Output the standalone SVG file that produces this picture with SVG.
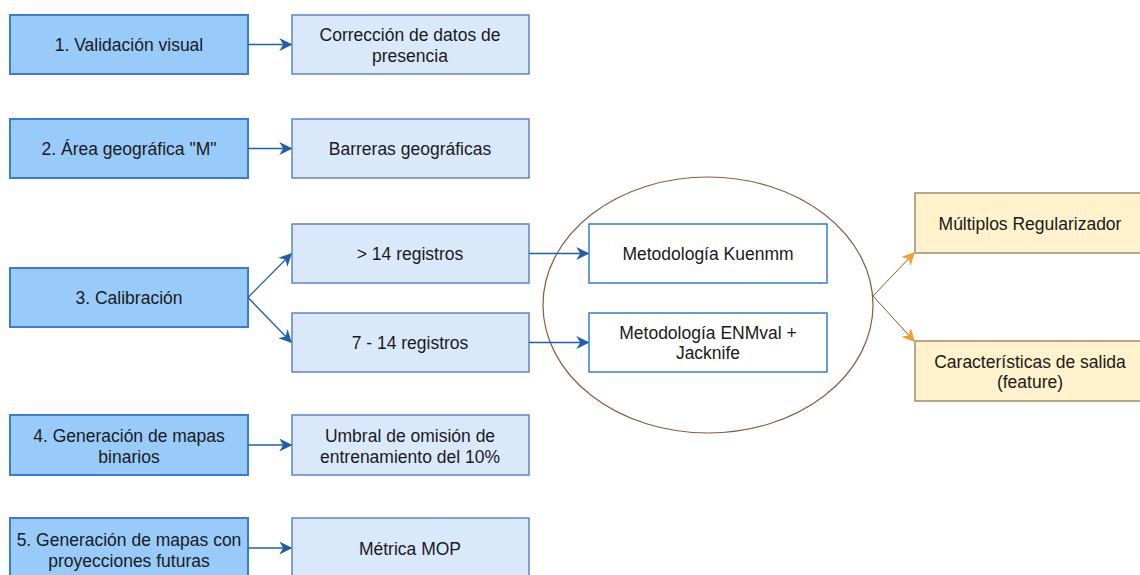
<svg xmlns="http://www.w3.org/2000/svg" width="1140" height="575" viewBox="0 0 1140 575">
<defs>
<style>
text{font-family:"Liberation Sans",Arial,sans-serif;font-size:17.5px;fill:#1a1a1a;text-anchor:middle;dominant-baseline:central}
.main{fill:#99cbfa;stroke:#3a7bd5;stroke-width:2}
.sub{fill:#dae8fc;stroke:#5f86c0;stroke-width:1.5}
.met{fill:#ffffff;stroke:#3a7bd5;stroke-width:1.5}
.out{fill:#fff2cc;stroke:#a08c6c;stroke-width:1.5}
.c{fill:none;stroke:#1f5fae;stroke-width:1.3}
.o{fill:none;stroke:#8b5a2b;stroke-width:1}
</style>
<marker id="ab" viewBox="0 0 10 10" refX="9" refY="5" markerWidth="13" markerHeight="13" markerUnits="userSpaceOnUse" orient="auto"><path d="M0,0 L10,5 L0,10 L3,5 Z" fill="#1f5fae"/></marker>
<marker id="ao" viewBox="0 0 10 10" refX="9" refY="5" markerWidth="13" markerHeight="13" markerUnits="userSpaceOnUse" orient="auto"><path d="M0,0 L10,5 L0,10 L3,5 Z" fill="#f0a030"/></marker>
</defs>
<rect width="1140" height="575" fill="#ffffff"/>
<ellipse id="group-ellipse" cx="708" cy="305" rx="165" ry="128" fill="none" stroke="#8b5e3c" stroke-width="1.2"/>
<g id="n1"><rect class="main" x="10" y="15" width="238" height="59"/><text x="129" y="45">1. Validación visual</text></g>
<g id="n1b"><rect class="sub" x="292" y="15" width="237" height="59"/><text x="410" y="35">Corrección de datos de</text><text x="410" y="56">presencia</text></g>
<g id="n2"><rect class="main" x="10" y="119" width="238" height="59"/><text x="129" y="149">2. Área geográfica "M"</text></g>
<g id="n2b"><rect class="sub" x="292" y="119" width="237" height="59"/><text x="410" y="149">Barreras geográficas</text></g>
<g id="n3"><rect class="main" x="10" y="268" width="238" height="59"/><text x="129" y="298">3. Calibración</text></g>
<g id="n3a"><rect class="sub" x="292" y="224" width="237" height="59"/><text x="410" y="254">&gt; 14 registros</text></g>
<g id="n3b"><rect class="sub" x="292" y="313" width="237" height="59"/><text x="410" y="343">7 - 14 registros</text></g>
<g id="m1"><rect class="met" x="589" y="224" width="238" height="59"/><text x="708" y="254">Metodología Kuenmm</text></g>
<g id="m2"><rect class="met" x="589" y="313" width="238" height="59"/><text x="708" y="333">Metodología ENMval +</text><text x="708" y="353">Jacknife</text></g>
<g id="o1"><rect class="out" x="915" y="193" width="226" height="60"/><text x="1030" y="224">Múltiplos Regularizador</text></g>
<g id="o2"><rect class="out" x="915" y="341" width="226" height="60"/><text x="1030" y="362">Características de salida</text><text x="1030" y="382">(feature)</text></g>
<g id="n4"><rect class="main" x="10" y="415" width="238" height="60"/><text x="129" y="436">4. Generación de mapas</text><text x="129" y="457">binarios</text></g>
<g id="n4b"><rect class="sub" x="292" y="415" width="237" height="60"/><text x="410" y="436">Umbral de omisión de</text><text x="410" y="457">entrenamiento del 10%</text></g>
<g id="n5"><rect class="main" x="10" y="518" width="238" height="60"/><text x="129" y="540">5. Generación de mapas con</text><text x="129" y="561">proyecciones futuras</text></g>
<g id="n5b"><rect class="sub" x="292" y="518" width="237" height="60"/><text x="410" y="549">Métrica MOP</text></g>
<g id="connectors">
<line class="c" x1="248" y1="44.5" x2="291" y2="44.5" marker-end="url(#ab)"/>
<line class="c" x1="248" y1="148.5" x2="291" y2="148.5" marker-end="url(#ab)"/>
<line class="c" x1="248" y1="297.5" x2="291" y2="254" marker-end="url(#ab)"/>
<line class="c" x1="248" y1="297.5" x2="291" y2="342" marker-end="url(#ab)"/>
<line class="c" x1="529" y1="253.5" x2="588" y2="253.5" marker-end="url(#ab)"/>
<line class="c" x1="529" y1="342.5" x2="588" y2="342.5" marker-end="url(#ab)"/>
<line class="c" x1="248" y1="445" x2="291" y2="445" marker-end="url(#ab)"/>
<line class="c" x1="248" y1="548" x2="291" y2="548" marker-end="url(#ab)"/>
<line class="o" x1="873" y1="296" x2="914" y2="253" marker-end="url(#ao)"/>
<line class="o" x1="873" y1="296" x2="914" y2="341" marker-end="url(#ao)"/>
</g>
</svg>
